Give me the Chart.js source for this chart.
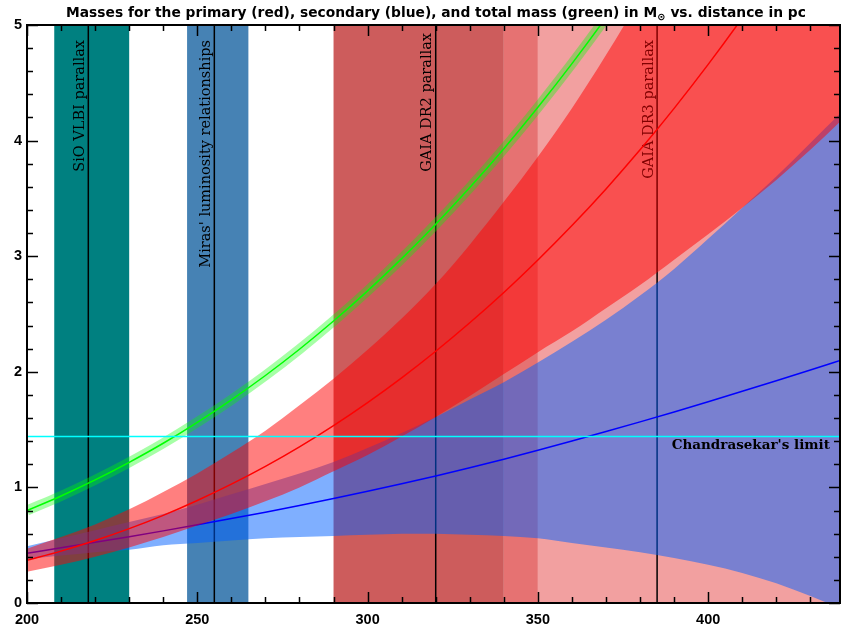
<!DOCTYPE html>
<html>
<head>
<meta charset="utf-8">
<script src="https://cdn.jsdelivr.net/npm/chart.js@4.4.1/dist/chart.umd.min.js"></script>
<style>
  html, body { margin: 0; padding: 0; background: #fff; }
  #wrap { width: 841px; height: 631px; }
</style>
</head>
<body>
<div id="wrap"><canvas id="massChart" width="841" height="631"></canvas></div>
<script>
// ===== masses vs distance =====

// distance grid in pc
const dist = [200, 210, 220, 230, 240, 250, 260, 270, 280, 290, 300, 310, 320,
  330, 340, 350, 360, 370, 380, 390, 400, 410, 420, 430, 440];

// total mass (green), read up to where it leaves the plot
const mTotal = [0.800, 0.926, 1.065, 1.217, 1.382, 1.563, 1.758, 1.968, 2.195, 2.439, 2.700, 2.979, 3.277,
  3.594, 3.930, 4.288, 4.666, 5.065, 5.487];

// primary (red): centre, upper and lower edge of the band
const m1 = [0.370, 0.449, 0.540, 0.643, 0.758, 0.887, 1.028, 1.182, 1.351, 1.535, 1.734, 1.948, 2.178,
  2.424, 2.686, 2.967, 3.265, 3.582, 3.920, 4.279, 4.659, 5.061, 5.486, 5.935, 6.408];
const m1Hi = [0.47, 0.57, 0.68, 0.81, 0.96, 1.12, 1.30, 1.49, 1.71, 1.94, 2.19, 2.46, 2.76,
  3.10, 3.47, 3.86, 4.28, 4.74, 5.23, 5.75, 6.30, 6.90, 7.50, 8.10, 8.80];
const m1Lo = [0.27, 0.33, 0.40, 0.48, 0.57, 0.67, 0.77, 0.88, 1.00, 1.14, 1.28, 1.44, 1.61,
  1.79, 1.98, 2.17, 2.35, 2.55, 2.75, 2.97, 3.19, 3.42, 3.66, 3.92, 4.20];

// secondary (blue)
const m2 = [0.430, 0.477, 0.525, 0.574, 0.624, 0.676, 0.730, 0.786, 0.844, 0.904, 0.966, 1.031, 1.099,
  1.170, 1.244, 1.321, 1.401, 1.483, 1.567, 1.653, 1.741, 1.831, 1.923, 2.016, 2.110];
const m2Hi = [0.49, 0.56, 0.63, 0.70, 0.77, 0.85, 0.94, 1.03, 1.12, 1.22, 1.34, 1.47, 1.61,
  1.76, 1.91, 2.08, 2.26, 2.45, 2.66, 2.89, 3.15, 3.42, 3.69, 3.98, 4.27];
const m2Lo = [0.38, 0.41, 0.44, 0.46, 0.50, 0.52, 0.54, 0.56, 0.57, 0.58, 0.59, 0.60, 0.60,
  0.59, 0.58, 0.56, 0.52, 0.48, 0.44, 0.39, 0.33, 0.26, 0.17, 0.06, -0.06];

const chandraLimit = 1.44;

const xTickLabels = [200, 250, 300, 350, 400];
const yTickLabels = [0, 1, 2, 3, 4, 5];

// distance estimates: shaded ranges and the value lines
const bandFrom = [208, 247, 290, 340, 350];
const bandTo = [230, 265, 340, 350, 440];
const bandColors = ['#008080', '#4682b4', '#cd5c5c', '#e67272', '#f2a0a0'];
const methodDist = [218, 255, 320, 385];
const methodNames = ['SiO VLBI parallax', "Miras' luminosity relationships", 'GAIA DR2 parallax', 'GAIA DR3 parallax'];

const pts = (ys) => ys.map((v, i) => ({ x: dist[i], y: v }));

function lineSet(label, ys, color, width, order, extra) {
  return Object.assign({
    label: label, data: pts(ys), borderColor: color, borderWidth: width,
    pointRadius: 0, fill: false, order: order, clip: 0,
    cubicInterpolationMode: 'monotone'
  }, extra || {});
}

// band edges have no stroke; the upper edge fills down to the next dataset
const datasets = [
  lineSet('Chandrasekar', [], '#00ffff', 1.5, 0, { data: [{ x: 200, y: chandraLimit }, { x: 440, y: chandraLimit }] }),
  lineSet('total', mTotal, '#00ff00', 1.5, 1),
  lineSet('total err', mTotal, 'rgba(0,255,0,0.35)', 10, 2),
  lineSet('primary', m1, '#ff0000', 1.5, 3),
  lineSet('primary hi', m1Hi, 'transparent', 0, 4, { fill: '+1', backgroundColor: 'rgba(255,0,0,0.5)' }),
  lineSet('primary lo', m1Lo, 'transparent', 0, 5),
  lineSet('secondary', m2, '#0000ff', 1.5, 6),
  lineSet('secondary hi', m2Hi, 'transparent', 0, 7, { fill: '+1', backgroundColor: 'rgba(0,96,255,0.5)' }),
  lineSet('secondary lo', m2Lo, 'transparent', 0, 8)
];

const decor = {
  id: 'decor',
  beforeDatasetsDraw(chart) {
    const { ctx, chartArea: a, scales: { x } } = chart;
    ctx.save();
    ctx.beginPath();
    ctx.rect(a.left, a.top, a.right - a.left, a.bottom - a.top);
    ctx.clip();
    bandFrom.forEach((from, i) => {
      const x0 = x.getPixelForValue(from), x1 = x.getPixelForValue(bandTo[i]);
      ctx.fillStyle = bandColors[i];
      ctx.fillRect(x0, a.top, x1 - x0, a.bottom - a.top);
    });
    ctx.strokeStyle = '#000';
    ctx.lineWidth = 1.5;
    ctx.fillStyle = '#000';
    ctx.font = '14.5px "DejaVu Serif"';
    const topGap = [15, 15, 8, 15];
    methodDist.forEach((d, i) => {
      const px = x.getPixelForValue(d);
      ctx.beginPath(); ctx.moveTo(px, a.top); ctx.lineTo(px, a.bottom); ctx.stroke();
      ctx.save();
      ctx.translate(px - 4.5, a.top + topGap[i]);
      ctx.rotate(-Math.PI / 2);
      ctx.textAlign = 'right';
      ctx.textBaseline = 'alphabetic';
      ctx.fillText(methodNames[i], 0, 0);
      ctx.restore();
    });
    ctx.restore();
  },
  afterDatasetsDraw(chart) {
    const { ctx, chartArea: a, scales: { x, y } } = chart;
    ctx.save();
    ctx.fillStyle = '#000';
    ctx.font = 'bold 13.5px "DejaVu Serif"';
    ctx.textBaseline = 'middle';
    ctx.fillText("Chandrasekar's limit", x.getPixelForValue(389.3), y.getPixelForValue(chandraLimit) + 9);

    // inward ticks on all four sides
    ctx.strokeStyle = '#000';
    ctx.lineWidth = 1.5;
    ctx.beginPath();
    for (let v = 200; v <= 438; v += 10) {
      const px = Math.round(x.getPixelForValue(v)) + 0.5;
      const len = v % 50 === 0 ? 11 : 6;
      ctx.moveTo(px, a.bottom); ctx.lineTo(px, a.bottom - len);
      ctx.moveTo(px, a.top); ctx.lineTo(px, a.top + len);
    }
    for (let k = 0; k <= 25; k++) {
      const py = Math.round(y.getPixelForValue(k * 0.2)) + 0.5;
      const len = k % 5 === 0 ? 11 : 6;
      ctx.moveTo(a.left, py); ctx.lineTo(a.left + len, py);
      ctx.moveTo(a.right, py); ctx.lineTo(a.right - len, py);
    }
    ctx.stroke();
    ctx.lineWidth = 2;
    ctx.strokeRect(a.left, a.top, a.right - a.left, a.bottom - a.top);
    ctx.restore();
  },
  afterDraw(chart) {
    const ctx = chart.ctx;
    const t1 = 'Masses for the primary (red), secondary (blue), and total mass (green) in M';
    const sub = '\u2299';
    const t2 = ' vs. distance in pc';
    const big = 'bold 13.8px "DejaVu Sans"', small = 'bold 10px "DejaVu Sans"';
    ctx.save();
    ctx.fillStyle = '#000';
    ctx.textBaseline = 'alphabetic';
    ctx.font = big;
    const w1 = ctx.measureText(t1).width, w2 = ctx.measureText(t2).width;
    ctx.font = small;
    const ws = ctx.measureText(sub).width;
    let cx = 436 - (w1 + ws + w2) / 2;
    ctx.font = big;
    ctx.fillText(t1, cx, 17);
    cx += w1;
    ctx.font = small;
    ctx.fillText(sub, cx, 20);
    cx += ws;
    ctx.font = big;
    ctx.fillText(t2, cx, 17);
    ctx.restore();
  }
};

const tickFont = { family: '"Liberation Sans", Arial, sans-serif', size: 14.5, weight: 'bold' };

new Chart(document.getElementById('massChart'), {
  type: 'line',
  data: { datasets: datasets },
  options: {
    responsive: false,
    animation: false,
    devicePixelRatio: 1,
    layout: { padding: { top: 25, right: 1, left: 0, bottom: 0 } },
    plugins: { legend: { display: false }, tooltip: { enabled: false }, title: { display: false } },
    scales: {
      x: {
        type: 'linear', min: 200, max: 438.7,
        afterBuildTicks: s => { s.ticks = xTickLabels.map(v => ({ value: v })); },
        afterFit: s => { s.height = 28; },
        ticks: { font: tickFont, color: '#000', padding: 8, maxRotation: 0, autoSkip: false },
        grid: { display: false, drawTicks: false }, border: { display: false }
      },
      y: {
        min: 0, max: 5,
        afterBuildTicks: s => { s.ticks = yTickLabels.map(v => ({ value: v })); },
        afterFit: s => { s.width = 27; },
        ticks: { font: tickFont, color: '#000', padding: 5, autoSkip: false },
        grid: { display: false, drawTicks: false }, border: { display: false }
      }
    }
  },
  plugins: [decor]
});
</script>
</body>
</html>
